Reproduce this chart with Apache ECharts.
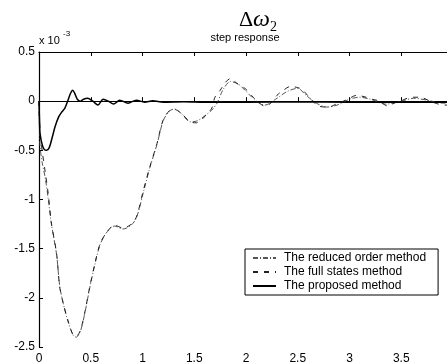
<!DOCTYPE html>
<html>
<head>
<meta charset="utf-8">
<script src="https://cdn.jsdelivr.net/npm/echarts@6/dist/echarts.min.js"></script>
<style>
  html, body { margin: 0; padding: 0; background: #fff; }
  #chart { width: 447px; height: 362px; }
</style>
</head>
<body>
<div id="chart"></div>
<script>
// Step response of delta-omega 2 (values in units of 1e-3)
const xTicks = [0, 0.5, 1, 1.5, 2, 2.5, 3, 3.5, 4];
const yTicks = [-2.5, -2, -1.5, -1, -0.5, 0, 0.5];

const seriesNames = ['The reduced order method', 'The full states method', 'The proposed method'];

// The reduced order method
const tReduced = [0, 0.01, 0.03, 0.06, 0.09, 0.12, 0.17, 0.20, 0.235, 0.28, 0.33, 0.36, 0.40, 0.44, 0.49, 0.54, 0.59, 0.65, 0.73, 0.81, 0.88, 0.94, 1.01, 1.07, 1.14, 1.20, 1.26, 1.31, 1.38, 1.46, 1.53, 1.60, 1.67, 1.72, 1.78, 1.85, 1.93, 2.00, 2.10, 2.18, 2.30, 2.40, 2.50, 2.58, 2.68, 2.78, 2.88, 3.00, 3.10, 3.20, 3.35, 3.50, 3.62, 3.75, 3.90, 4.00];
const vReduced = [0, -0.45, -0.62, -0.78, -1.0, -1.25, -1.56, -1.88, -2.06, -2.24, -2.38, -2.40, -2.34, -2.17, -1.90, -1.66, -1.46, -1.34, -1.27, -1.30, -1.27, -1.19, -0.92, -0.68, -0.44, -0.20, -0.10, -0.08, -0.13, -0.21, -0.20, -0.15, -0.09, -0.02, 0.12, 0.20, 0.17, 0.10, 0.0, -0.04, 0.03, 0.10, 0.13, 0.06, -0.02, -0.06, -0.04, 0.02, 0.04, 0.02, -0.03, 0.0, 0.03, 0.01, -0.02, -0.02];

// The full states method
const tFull = [0, 0.01, 0.03, 0.06, 0.09, 0.12, 0.17, 0.20, 0.235, 0.28, 0.33, 0.36, 0.40, 0.44, 0.49, 0.54, 0.59, 0.65, 0.73, 0.81, 0.88, 0.94, 1.01, 1.07, 1.14, 1.20, 1.27, 1.31, 1.38, 1.46, 1.52, 1.57, 1.63, 1.67, 1.70, 1.75, 1.80, 1.85, 1.89, 1.94, 1.99, 2.07, 2.13, 2.18, 2.24, 2.30, 2.36, 2.43, 2.49, 2.54, 2.62, 2.70, 2.80, 2.87, 2.94, 3.00, 3.07, 3.16, 3.22, 3.29, 3.37, 3.43, 3.49, 3.56, 3.62, 3.68, 3.78, 3.86, 3.94, 4.00];
const vFull = [0, -0.3, -0.5, -0.72, -0.95, -1.24, -1.55, -1.89, -2.06, -2.23, -2.38, -2.39, -2.33, -2.16, -1.89, -1.65, -1.45, -1.34, -1.26, -1.29, -1.26, -1.18, -0.90, -0.67, -0.43, -0.19, -0.09, -0.085, -0.13, -0.21, -0.22, -0.19, -0.12, -0.07, 0.04, 0.11, 0.19, 0.23, 0.20, 0.16, 0.13, 0.04, -0.02, -0.05, -0.02, 0.06, 0.11, 0.15, 0.14, 0.12, 0.03, -0.05, -0.06, -0.03, 0.0, 0.03, 0.06, 0.04, 0.02, 0.0, -0.05, -0.02, 0.0, 0.03, 0.04, 0.04, 0.0, -0.03, -0.04, -0.03];

// The proposed method
const tProposed = [0, 0.005, 0.01, 0.03, 0.05, 0.075, 0.10, 0.13, 0.155, 0.19, 0.22, 0.25, 0.28, 0.305, 0.325, 0.345, 0.37, 0.40, 0.43, 0.47, 0.52, 0.57, 0.62, 0.67, 0.72, 0.78, 0.86, 0.94, 1.02, 1.10, 1.20, 1.40, 1.60, 2.00, 2.50, 3.00, 3.50, 4.00];
const vProposed = [0, -0.2, -0.33, -0.44, -0.49, -0.50, -0.47, -0.36, -0.26, -0.16, -0.11, -0.07, 0.01, 0.08, 0.11, 0.08, 0.02, 0.0, 0.02, 0.03, 0.0, -0.04, 0.02, 0.0, -0.03, 0.01, -0.02, 0.01, -0.01, 0.005, -0.01, -0.005, -0.01, -0.01, -0.005, -0.01, -0.01, -0.01];

const pairs = (t, v) => t.map((x, i) => [x, v[i]]);

const FONT = '"Liberation Sans", Arial, Helvetica, sans-serif';
const SERIF = '"Liberation Serif", "Times New Roman", serif';

const chart = echarts.init(document.getElementById('chart'), null, { renderer: 'canvas' });

const axisCommon = {
  type: 'value',
  min: xTicks[0],
  max: xTicks[xTicks.length - 1],
  interval: 0.5,
  axisLine: { show: true, lineStyle: { color: '#000', width: 1.2 } },
  axisTick: { show: true, inside: true, length: 4, lineStyle: { color: '#000', width: 1 } },
  splitLine: { show: false }
};

chart.setOption({
  animation: false,
  backgroundColor: '#fff',
  color: ['#555', '#222', '#000'],
  // the plot frame runs a few pixels past the right edge of the canvas
  grid: { left: 39, width: 414, top: 52, height: 295, outerBoundsMode: 'none', containLabel: false },
  xAxis: [
    Object.assign({}, axisCommon, {
      position: 'bottom',
      axisLabel: { color: '#000', fontFamily: FONT, fontSize: 12, margin: 6, formatter: v => String(v) }
    }),
    Object.assign({}, axisCommon, {
      position: 'top',
      axisLabel: { show: false }
    })
  ],
  yAxis: {
    type: 'value',
    min: yTicks[0],
    max: yTicks[yTicks.length - 1],
    interval: 0.5,
    axisLine: { show: true, lineStyle: { color: '#000', width: 1.2 } },
    axisTick: { show: true, inside: true, length: 4, lineStyle: { color: '#000', width: 1 } },
    axisLabel: { color: '#000', fontFamily: FONT, fontSize: 12, margin: 4, formatter: v => String(v) },
    splitLine: { show: false }
  },
  legend: {
    data: seriesNames,
    orient: 'vertical',
    left: 245,
    top: 249,
    itemWidth: 23,
    itemHeight: 12,
    itemGap: 2,
    padding: [3, 12, 3, 7],
    backgroundColor: '#fff',
    borderColor: '#000',
    borderWidth: 1,
    borderRadius: 0,
    itemStyle: { opacity: 0 },
    textStyle: { color: '#000', fontFamily: FONT, fontSize: 12, padding: [0, 0, 0, 3] }
  },
  graphic: [
    {
      type: 'text', x: 270, y: 20, z: 10,
      style: {
        text: '{d|Δ}{w|ω}',
        align: 'right', verticalAlign: 'middle',
        rich: {
          d: { font: '22px ' + SERIF, fill: '#000' },
          w: { font: 'italic 24px ' + SERIF, fill: '#000' }
        }
      }
    },
    {
      type: 'text', x: 270, y: 27, z: 10,
      style: { text: '2', font: '14px ' + SERIF, fill: '#000', verticalAlign: 'middle' }
    },
    {
      type: 'text', x: 245, y: 38, z: 10,
      style: { text: 'step response', font: '11px ' + FONT, fill: '#000', align: 'center', verticalAlign: 'middle' }
    },
    {
      type: 'text', x: 39, y: 41, z: 10,
      style: { text: 'x 10', font: '11px ' + FONT, fill: '#000', verticalAlign: 'middle' }
    },
    {
      type: 'text', x: 63, y: 34, z: 10,
      style: { text: '-3', font: '8px ' + FONT, fill: '#000', verticalAlign: 'middle' }
    }
  ],
  series: [
    {
      name: seriesNames[0], type: 'line', symbol: 'none', smooth: 0.3,
      data: pairs(tReduced, vReduced),
      lineStyle: { color: '#555', width: 1, type: [5, 2, 1, 2] }
    },
    {
      name: seriesNames[1], type: 'line', symbol: 'none', smooth: 0.3,
      data: pairs(tFull, vFull),
      lineStyle: { color: '#222', width: 1, type: [5, 6] }
    },
    {
      name: seriesNames[2], type: 'line', symbol: 'none', smooth: 0.3,
      data: pairs(tProposed, vProposed),
      lineStyle: { color: '#000', width: 1.5, type: 'solid' }
    }
  ]
});
</script>
</body>
</html>
